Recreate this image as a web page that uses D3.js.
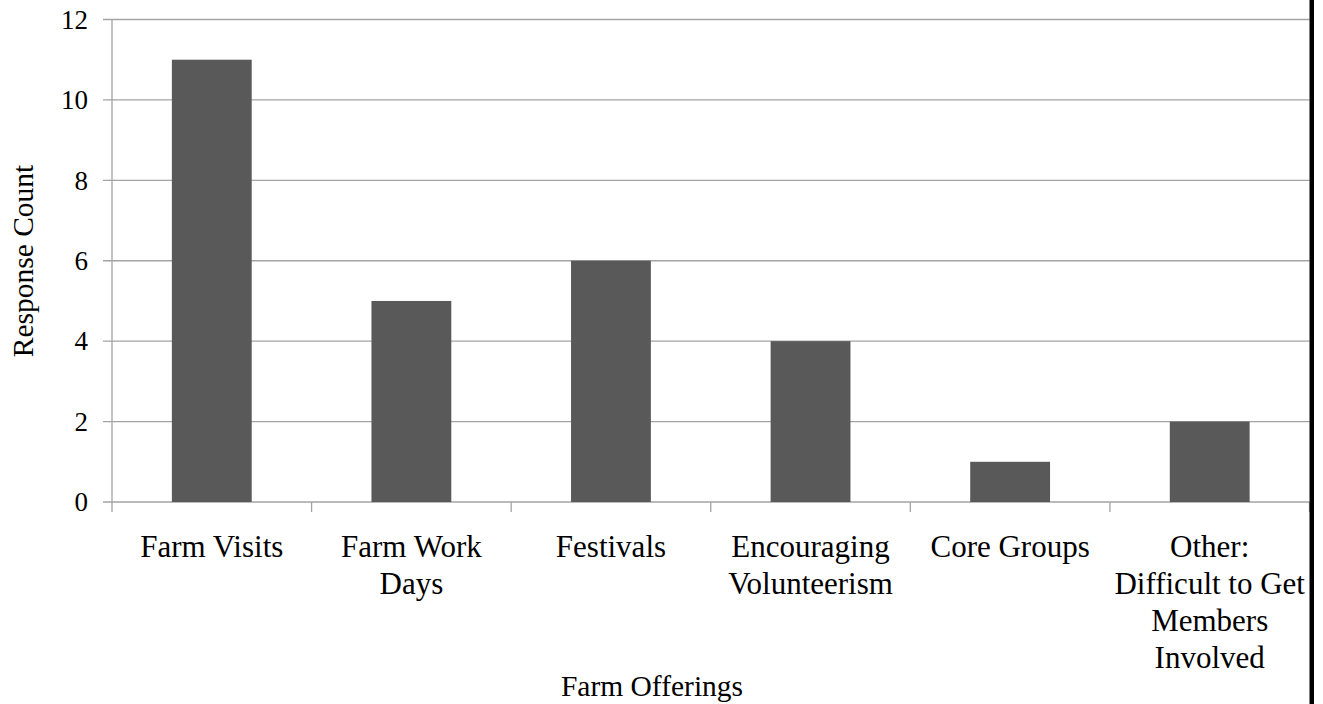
<!DOCTYPE html>
<html>
<head>
<meta charset="utf-8">
<script src="https://cdn.jsdelivr.net/npm/d3@7"></script>
<style>
  body { margin: 0; background: #fff; }
  svg { display: block; }
  svg text { font-family: 'Liberation Serif', 'DejaVu Serif', serif; fill: #000; }
</style>
</head>
<body>
<div id="chart"></div>
<script>
// data
var categories = [
  ["Farm Visits"],
  ["Farm Work", "Days"],
  ["Festivals"],
  ["Encouraging", "Volunteerism"],
  ["Core Groups"],
  ["Other:", "Difficult to Get", "Members", "Involved"]
];
var counts = [11, 5, 6, 4, 1, 2];
var yTicks = [0, 2, 4, 6, 8, 10, 12];

var W = 1323, H = 704;
var margin = {top: 19.5, right: 13.5, bottom: 202, left: 112};
var x0 = margin.left, x1 = W - margin.right, y0 = H - margin.bottom, y1 = margin.top;

var svg = d3.select("#chart").append("svg")
    .attr("width", W)
    .attr("height", H);

var keys = d3.range(categories.length);
var xScale = d3.scaleBand()
    .domain(keys)
    .range([x0, x1])
    .paddingInner(0.6)
    .paddingOuter(0.3);

var yScale = d3.scaleLinear()
    .domain([0, 12])
    .range([y0, y1]);

var gridColor = "#a3a3a3";

// gridlines + y ticks
svg.append("g")
  .selectAll("line")
  .data(yTicks)
  .enter().append("line")
    .attr("x1", x0 - 9)
    .attr("x2", x1)
    .attr("y1", d => yScale(d))
    .attr("y2", d => yScale(d))
    .attr("stroke", gridColor)
    .attr("stroke-width", 1.3);

// y axis line
svg.append("line")
    .attr("x1", x0).attr("x2", x0)
    .attr("y1", y1).attr("y2", y0 + 10)
    .attr("stroke", gridColor)
    .attr("stroke-width", 1.3);

// category ticks
var step = xScale.step();
svg.append("g")
  .selectAll("line")
  .data(d3.range(1, categories.length + 1))
  .enter().append("line")
    .attr("x1", d => x0 + d * step)
    .attr("x2", d => x0 + d * step)
    .attr("y1", y0)
    .attr("y2", y0 + 10)
    .attr("stroke", gridColor)
    .attr("stroke-width", 1.3);

// y tick labels
svg.append("g")
  .selectAll("text")
  .data(yTicks)
  .enter().append("text")
    .attr("x", 88)
    .attr("y", d => yScale(d))
    .attr("dy", "0.34em")
    .attr("text-anchor", "end")
    .style("font-size", "27px")
    .text(d => d);

// bars
svg.append("g")
  .selectAll("rect")
  .data(counts)
  .enter().append("rect")
    .attr("x", (d, i) => xScale(i))
    .attr("width", xScale.bandwidth())
    .attr("y", d => yScale(d))
    .attr("height", d => y0 - yScale(d))
    .attr("fill", "#595959");

// category labels
var lab = svg.append("g")
  .selectAll("text")
  .data(categories)
  .enter().append("text")
    .attr("text-anchor", "middle")
    .style("font-size", "31px");

lab.selectAll("tspan")
  .data((d, i) => d.map(s => ({s: s, i: i})))
  .enter().append("tspan")
    .attr("x", d => xScale(d.i) + xScale.bandwidth() / 2)
    .attr("y", (d, j) => 557 + j * 37)
    .text(d => d.s);

// axis titles
svg.append("text")
    .attr("x", 652)
    .attr("y", 696)
    .attr("text-anchor", "middle")
    .style("font-size", "29.5px")
    .text("Farm Offerings");

svg.append("text")
    .attr("transform", "translate(33,261) rotate(-90)")
    .attr("text-anchor", "middle")
    .style("font-size", "29.5px")
    .text("Response Count");

// black edge on the right
svg.append("rect")
    .attr("x", x1)
    .attr("y", 0)
    .attr("width", 4.5)
    .attr("height", H)
    .attr("fill", "#000");
</script>
</body>
</html>
